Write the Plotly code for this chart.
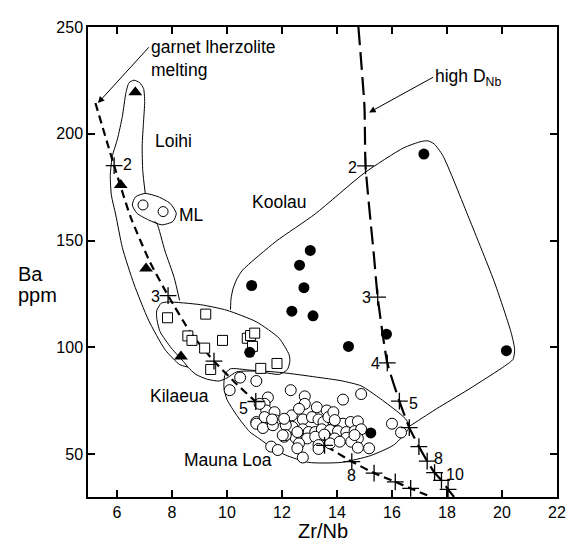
import plotly.graph_objects as go

# ---------------- data ----------------
# Loihi (filled triangles)
loihi_x = [6.67, 6.14, 7.06, 8.33]
loihi_y = [219.5, 176.0, 137.0, 95.8]

# ML (open circles)
ml_x = [6.95, 7.68]
ml_y = [166.7, 163.6]

# Koolau (filled circles)
koolau_x = [17.16, 10.9, 13.03, 12.64, 12.8, 12.36, 13.13, 14.42, 15.8, 20.16, 15.23, 10.83]
koolau_y = [190.5, 129.0, 145.4, 138.5, 128.0, 117.0, 114.8, 100.5, 106.2, 98.5, 60.0, 97.7]

# Kilaeua (open squares)
kil_x = [7.84, 9.23, 8.58, 8.73, 9.19, 9.84, 9.41, 10.74, 10.86, 11.01, 10.93, 11.23, 11.82]
kil_y = [113.9, 115.6, 105.4, 103.3, 99.7, 103.3, 89.7, 104.3, 105.6, 106.7, 100.5, 90.2, 92.5]

# Mauna Loa (open circles)
ml2_x = [10.48, 11.07, 10.10, 12.32, 11.49, 12.83, 14.22, 14.88, 11.37, 11.43, 11.73, 12.83,
         13.27, 13.63, 11.07, 11.31, 11.37, 11.76, 12.36, 12.76, 13.09, 13.33, 13.51, 13.87,
         14.22, 14.50, 14.76, 12.38, 12.76, 12.97, 13.21, 13.45, 13.75, 14.04, 14.34, 14.64,
         14.88, 12.08, 12.50, 12.92, 13.21, 13.57, 13.92, 14.34, 14.76, 12.62, 13.33, 13.75,
         14.10, 14.52, 11.61, 11.85, 12.56, 13.33, 14.76, 15.17, 12.76, 16.00, 16.33, 13.69,
         12.62, 12.56, 12.14, 13.87, 13.92, 12.14, 13.54, 14.64, 11.19, 11.07, 11.31, 11.67,
         11.64, 12.08, 12.03]
ml2_y = [85.9, 84.3, 80.0, 80.0, 76.6, 77.1, 75.6, 78.2, 73.6, 70.5, 69.7, 73.6,
         72.0, 70.5, 65.1, 62.8, 67.4, 65.9, 68.2, 66.3, 67.4, 66.3, 65.1, 65.4,
         64.3, 65.1, 65.4, 62.8, 61.7, 60.4, 60.4, 61.7, 61.3, 60.8, 60.4, 60.8,
         61.7, 58.2, 57.7, 57.4, 58.2, 58.9, 57.4, 57.7, 57.4, 55.1, 54.3, 55.1,
         55.9, 55.9, 53.6, 52.0, 52.8, 52.5, 53.1, 52.8, 48.5, 64.3, 60.2, 67.4,
         71.3, 60.4, 63.6, 69.7, 66.0, 59.0, 59.2, 59.0, 73.6, 64.3, 62.3, 63.6,
         66.3, 66.6, 58.9]

# garnet lherzolite melting curve and its tick marks
garnet_x = [5.22, 5.9, 6.5, 7.2, 7.86, 8.7, 9.53, 10.3, 11.05, 12.3, 13.55, 14.54, 15.35, 16.12, 16.68, 17.4]
garnet_y = [214.4, 185.1, 161.0, 140.0, 124.3, 106.5, 93.6, 83.5, 74.7, 63.5, 54.2, 46.6, 41.2, 37.1, 34.0, 30.2]
garnet_tick_x = [5.9, 7.86, 9.53, 11.05, 13.55, 14.54, 15.35, 16.12, 16.68]
garnet_tick_y = [185.1, 124.3, 93.6, 74.7, 54.2, 46.6, 41.2, 37.1, 34.0]
garnet_lab = ["2", "3", "5", "8"]
garnet_lab_x = [6.4, 7.39, 10.62, 14.52]
garnet_lab_y = [185.5, 123.9, 71.6, 40.2]

# high D_Nb curve and its tick marks
hd_x = [14.78, 15.0, 15.04, 15.35, 15.48, 15.83, 16.27, 16.63, 16.98, 17.28, 17.55, 17.8, 18.04, 18.26]
hd_y = [250.0, 212.8, 185.0, 142.2, 123.6, 92.8, 74.9, 62.5, 53.6, 46.8, 41.4, 37.8, 33.6, 30.0]
hd_tick_x = [15.04, 15.48, 15.83, 16.27, 16.63, 16.98, 17.28, 17.55, 17.8, 18.04]
hd_tick_y = [185.0, 123.6, 92.8, 74.9, 62.5, 53.6, 46.8, 41.4, 37.8, 33.6]
hd_lab = ["2", "3", "4", "5", "8", "10"]
hd_lab_x = [14.58, 15.06, 15.41, 16.78, 17.7, 18.3]
hd_lab_y = [184.3, 123.6, 92.5, 73.9, 48.2, 40.5]

# envelopes (outlines)
loihi_env_x = [8.28, 8.08, 7.75, 7.45, 7.37, None,
               7.03, 6.94, 6.92, 6.97, 7.01, 6.97, 6.83, 6.62, 6.44, 6.33, 6.2, 6.02,
               5.84, 5.76, 5.8, 5.96, 6.2, 6.62, 7.15, 7.75, 8.28, 8.58]
loihi_env_y = [122.0, 132.8, 145.1, 158.2, 158.9, None,
               172.2, 182.8, 194.4, 205.9, 215.1, 221.2, 223.9, 225.1, 223.9, 219.3, 208.2, 197.5,
               189.8, 180.5, 171.3, 162.0, 146.7, 129.7, 112.8, 99.0, 92.0, 90.8]

mlenv_x = [6.56, 6.68, 7.03, 7.51, 7.93, 8.16, 8.04, 7.63, 7.15, 6.73, 6.56]
mlenv_y = [166.7, 170.5, 172.1, 170.5, 167.5, 162.8, 159.0, 157.4, 159.7, 162.8, 166.7]

kil_env_x = [8.58, 8.87, 9.29, 9.72, 10.0, 10.36, 11.07, 11.9, 12.2, 12.29, 12.26, 11.9,
             11.07, 10.0, 9.05, 7.86, 7.61, 7.45, 7.45, 7.57, 7.98, 8.46, 8.58]
kil_env_y = [90.8, 87.4, 85.1, 84.3, 85.7, 88.6, 88.9, 87.4, 89.7, 93.7, 96.6, 104.3,
             112.0, 117.4, 120.0, 121.3, 120.7, 117.3, 113.6, 107.4, 99.7, 92.8, 90.8]

mlo_env_x = [10.12, 9.93, 9.89, 10.0, 10.36, 10.83, 11.19, 11.67, 12.14, 12.97, 14.16, 15.23,
             16.06, 16.48, 16.63, 16.53, 16.3, 15.59, 14.88, 14.16, 13.21, 12.03, 10.83, 10.12]
mlo_env_y = [90.0, 87.3, 81.3, 75.7, 68.2, 60.5, 57.2, 52.8, 49.6, 46.2, 46.2, 49.4,
             54.3, 59.7, 62.8, 66.0, 68.9, 75.9, 82.0, 84.4, 86.2, 88.2, 89.4, 90.0]

koo_env_x = [10.13, 10.15, 10.22, 10.36, 10.57, 11.79, 13.21, 15.0, 16.42, 17.06, 17.31, 17.53,
             17.85, 18.8, 19.75, 20.34, 20.46, 20.4, 20.1, 18.8, 17.61, 16.6]
koo_env_y = [117.7, 122.8, 127.4, 132.0, 136.2, 149.7, 162.5, 181.7, 193.4, 196.4, 196.7, 195.3,
             189.8, 160.5, 129.7, 106.6, 99.0, 94.4, 91.3, 80.5, 71.2, 62.8]

x_ticks = [6, 8, 10, 12, 14, 16, 18, 20, 22]
y_ticks = [50, 100, 150, 200, 250]

FONT = "Liberation Sans, Arial, Helvetica, sans-serif"

fig = go.Figure()

for ex, ey in [(loihi_env_x, loihi_env_y), (kil_env_x, kil_env_y),
               (mlo_env_x, mlo_env_y), (koo_env_x, koo_env_y), (mlenv_x, mlenv_y)]:
    fig.add_trace(go.Scatter(x=ex, y=ey, mode="lines",
                             line=dict(color="black", width=1, shape="spline", smoothing=0.6),
                             hoverinfo="skip", showlegend=False, connectgaps=False))

# curves
fig.add_trace(go.Scatter(x=garnet_x, y=garnet_y, mode="lines",
                         line=dict(color="black", width=2.2, dash="8px,5px", shape="spline", smoothing=0.5),
                         showlegend=False, hoverinfo="skip"))
fig.add_trace(go.Scatter(x=hd_x, y=hd_y, mode="lines",
                         line=dict(color="black", width=2.2, dash="18px,7px", shape="spline", smoothing=0.5),
                         showlegend=False, hoverinfo="skip"))

# data markers
fig.add_trace(go.Scatter(x=ml2_x, y=ml2_y, mode="markers",
                         marker=dict(symbol="circle", size=11, color="white", line=dict(color="black", width=1)),
                         showlegend=False))
fig.add_trace(go.Scatter(x=kil_x, y=kil_y, mode="markers",
                         marker=dict(symbol="square", size=10, color="white", line=dict(color="black", width=1)),
                         showlegend=False))
fig.add_trace(go.Scatter(x=ml_x, y=ml_y, mode="markers",
                         marker=dict(symbol="circle", size=10, color="white", line=dict(color="black", width=1)),
                         showlegend=False))
fig.add_trace(go.Scatter(x=koolau_x, y=koolau_y, mode="markers",
                         marker=dict(symbol="circle", size=11, color="black", line=dict(color="black", width=0)),
                         showlegend=False))
fig.add_trace(go.Scatter(x=loihi_x, y=loihi_y, mode="markers",
                         marker=dict(symbol="triangle-up", size=12, color="black", line=dict(color="black", width=0)),
                         showlegend=False))

# tick crosses on curves
fig.add_trace(go.Scatter(x=garnet_tick_x + hd_tick_x, y=garnet_tick_y + hd_tick_y, mode="markers",
                         marker=dict(symbol="cross-thin", size=12, line=dict(color="black", width=1.3)),
                         showlegend=False, hoverinfo="skip"))

ann = []
for t, x, y in zip(garnet_lab + hd_lab, garnet_lab_x + hd_lab_x, garnet_lab_y + hd_lab_y):
    ann.append(dict(x=x, y=y, text=t, showarrow=False, font=dict(size=16, family=FONT, color="black")))

labels = [("Loihi", 8.05, 196.7, "center"), ("ML", 8.2, 162.0, "left"), ("Koolau", 11.9, 168.2, "center"),
          ("Kilaeua", 8.28, 77.4, "center"), ("Mauna Loa", 10.03, 47.4, "center"),
          ("melting", 7.16, 229.9, "left")]
for t, x, y, xa in labels:
    ann.append(dict(x=x, y=y, text=t, showarrow=False, xanchor=xa,
                    font=dict(size=17.5, family=FONT, color="black")))

# labels with arrows (text sits at the arrow tail)
ann.append(dict(x=5.31, y=214.4, ax=7.16, ay=240.5, axref="x", ayref="y", text="garnet lherzolite",
                xanchor="left", font=dict(size=17.5, family=FONT, color="black"),
                showarrow=True, arrowhead=2, arrowsize=1.3, arrowwidth=1, arrowcolor="black", standoff=0))
ann.append(dict(x=15.17, y=210.0, ax=17.5, ay=226.5, axref="x", ayref="y", text="high D<sub>Nb</sub>",
                xanchor="left", font=dict(size=17.5, family=FONT, color="black"),
                showarrow=True, arrowhead=2, arrowsize=1.3, arrowwidth=1, arrowcolor="black", standoff=0))

# axis titles
ann.append(dict(xref="paper", yref="paper", x=0.5, y=-0.073, text="Zr/Nb", showarrow=False,
                yanchor="middle", font=dict(size=20, family=FONT, color="black")))
ann.append(dict(xref="paper", yref="paper", x=-0.1527, y=(497 - 270) / 478, text="Ba", showarrow=False,
                xanchor="left", yanchor="middle", font=dict(size=20, family=FONT, color="black")))
ann.append(dict(xref="paper", yref="paper", x=-0.1527, y=(497 - 292) / 478, text="ppm", showarrow=False,
                xanchor="left", yanchor="middle", font=dict(size=20, family=FONT, color="black")))

# the page body adds an 8 px offset, so the figure is sized/margined to compensate
fig.update_layout(
    width=569, height=536,
    margin=dict(l=80, r=11, t=11, b=47),
    paper_bgcolor="white", plot_bgcolor="white",
    showlegend=False,
    annotations=ann,
    font=dict(family=FONT, color="black"),
)
fig.update_xaxes(range=[4.95, 22], tickvals=x_ticks, ticks="inside", ticklen=7, tickwidth=1.5,
                 tickcolor="black", showline=True, linecolor="black", linewidth=1.5, mirror="allticks",
                 showgrid=False, zeroline=False, tickfont=dict(size=16, family=FONT, color="black"))
fig.update_yaxes(range=[30, 250], tickvals=y_ticks, ticks="inside", ticklen=7, tickwidth=1.5,
                 tickcolor="black", showline=True, linecolor="black", linewidth=1.5, mirror="allticks",
                 showgrid=False, zeroline=False, tickfont=dict(size=16, family=FONT, color="black"))

fig.write_html("out.html")
